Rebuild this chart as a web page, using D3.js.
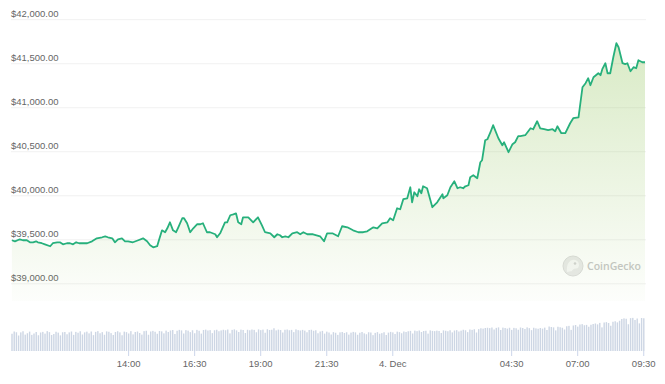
<!DOCTYPE html>
<html>
<head>
<meta charset="utf-8">
<script src="https://cdn.jsdelivr.net/npm/d3@7"></script>
<style>
  body { margin: 0; background: #fff; }
  svg { display: block; font-family: "Open Sans", "Noto Sans", sans-serif; }
</style>
</head>
<body>
<svg width="665" height="384"></svg>
<script>
// price series, minutes after 2023-12-03 09:34 UTC
var minutes = [2, 9, 20, 27, 36, 43, 50, 57, 61, 70, 77, 89, 95, 105, 111, 118, 127, 134, 141, 148,
  155, 164, 173, 184, 195, 207, 214, 220, 230, 236, 243, 252, 259, 266, 277, 289, 300, 309, 316, 323,
  332, 336, 343, 350, 355, 361, 368, 375, 380, 389, 393, 400, 407, 414, 423, 430, 436, 445, 452, 464,
  468, 475, 486, 491, 498, 505, 511, 516, 523, 527, 539, 550, 561, 570, 577, 589, 598, 605, 611, 616,
  623, 630, 639, 650, 657, 664, 673, 686, 702, 711, 718, 730, 743, 752, 764, 777, 789, 800, 809, 816,
  823, 832, 843, 855, 861, 868, 877, 884, 891, 900, 907, 911, 916, 923, 927, 932, 936, 945, 957, 968,
  980, 982, 991, 998, 1007, 1014, 1020, 1027, 1032, 1039, 1043, 1050, 1059, 1066, 1070, 1077, 1082, 1089, 1095, 1107,
  1116, 1120, 1130, 1139, 1145, 1152, 1157, 1168, 1180, 1186, 1195, 1202, 1211, 1220, 1230, 1236, 1241, 1250, 1259, 1270,
  1277, 1289, 1298, 1305, 1311, 1316, 1323, 1334, 1339, 1343, 1350, 1355, 1361, 1368, 1375, 1380, 1389, 1395, 1400, 1407,
  1414, 1420, 1425, 1434, 1440];
var prices = [39489, 39477, 39500, 39489, 39489, 39466, 39466, 39477, 39466, 39455, 39443, 39421, 39455, 39466, 39466, 39443, 39455, 39455, 39443, 39466,
  39455, 39455, 39455, 39477, 39511, 39523, 39534, 39523, 39511, 39466, 39500, 39511, 39477, 39477, 39466, 39489, 39511, 39477, 39432, 39409,
  39421, 39489, 39602, 39580, 39625, 39693, 39602, 39580, 39636, 39739, 39739, 39682, 39580, 39625, 39671, 39671, 39682, 39580, 39580, 39557,
  39523, 39568, 39693, 39693, 39773, 39784, 39795, 39693, 39671, 39750, 39750, 39693, 39750, 39659, 39580, 39568, 39523, 39557, 39546, 39523,
  39534, 39523, 39568, 39580, 39557, 39580, 39557, 39557, 39534, 39477, 39568, 39568, 39534, 39648, 39636, 39602, 39580, 39580, 39591, 39614,
  39636, 39625, 39682, 39693, 39739, 39716, 39852, 39841, 39955, 39966, 40091, 39920, 40034, 39989, 40068, 40023, 40102, 40080, 39864, 39920,
  40011, 39966, 40000, 40091, 40159, 40080, 40091, 40080, 40102, 40114, 40205, 40227, 40193, 40375, 40398, 40625, 40636, 40716, 40796, 40648,
  40568, 40602, 40489, 40580, 40602, 40671, 40671, 40682, 40761, 40750, 40841, 40761, 40750, 40739, 40750, 40727, 40784, 40705, 40705, 40818,
  40875, 40886, 41227, 41273, 41330, 41250, 41341, 41386, 41364, 41432, 41500, 41386, 41386, 41568, 41727, 41682, 41500, 41489, 41500, 41409,
  41455, 41443, 41534, 41511, 41511];

// volume per 5 minutes (billions USD)
var volumes = [
  13.8, 15.6, 15.0, 12.4, 14.9, 15.8, 13.1, 14.2, 15.5, 12.9, 14.0, 15.2,
  12.6, 14.8, 15.3, 13.9, 15.9, 15.1, 12.8, 13.6, 15.4, 14.7, 12.5, 15.0,
  15.2, 13.4, 14.9, 15.6, 12.9, 15.3, 14.6, 15.8, 13.2, 14.9, 15.5, 14.1,
  15.6, 12.7, 15.3, 15.9, 14.2, 15.1, 13.0, 15.7, 15.4, 14.3, 12.8, 15.2,
  15.8, 14.9, 12.6, 15.5, 15.1, 14.0, 15.9, 13.3, 15.2, 15.6, 14.4, 13.1,
  15.9, 16.2, 13.0, 15.6, 16.1, 15.4, 13.8, 16.0, 15.7, 14.1, 16.3, 15.2,
  16.4, 16.8, 13.6, 16.2, 16.9, 16.5, 14.0, 16.7, 16.3, 15.1, 16.6, 14.2,
  16.9, 16.2, 13.9, 16.8, 17.1, 16.4, 16.7, 14.3, 16.6, 17.0, 15.8, 16.5,
  17.0, 16.6, 17.2, 14.1, 16.9, 17.3, 16.5, 15.2, 17.1, 16.8, 14.4, 17.0,
  16.6, 17.2, 16.9, 15.0, 17.3, 16.7, 17.1, 14.6, 17.4, 16.8, 17.0, 18.2,
  16.5, 17.1, 16.8, 14.8, 17.0, 17.2, 16.6, 16.9, 15.1, 17.3, 16.7, 16.4,
  16.9, 16.3, 15.0, 16.8, 17.0, 16.2, 16.6, 14.2, 15.6, 16.1, 13.9, 15.5,
  14.8, 13.2, 15.1, 14.6, 12.9, 14.9, 15.2, 14.4, 15.0, 13.1, 14.7, 15.3,
  14.9, 13.0, 14.6, 15.2, 14.1, 13.4, 15.0, 14.8, 12.7, 14.5, 15.1, 13.8,
  14.3, 15.0, 12.8, 14.7, 15.3, 14.9, 13.6, 15.5, 15.1, 14.2, 15.6, 15.2,
  15.8, 16.1, 14.0, 16.3, 15.9, 16.4, 15.2, 16.0, 16.2, 13.9, 16.5, 16.1,
  15.9, 16.3, 16.0, 14.4, 16.5, 16.2, 15.8, 16.6, 14.9, 16.4, 16.7, 15.6,
  16.3, 17.0, 16.6, 15.1, 17.2, 16.9, 17.4, 14.8, 17.5, 18.2, 17.9, 18.4,
  18.6, 18.3, 18.8, 17.2, 18.5, 18.9, 16.8, 18.7, 18.4, 17.9, 18.6, 16.9,
  18.5, 18.2, 17.0, 18.8, 18.4, 17.6, 18.9, 18.3, 16.7, 18.6, 18.1, 17.8,
  18.4, 17.9, 18.7, 16.8, 19.6, 19.2, 18.9, 16.5, 19.4, 19.0, 18.6, 17.2,
  19.8, 20.1, 16.9, 20.4, 20.8, 19.5, 21.2, 21.5, 20.6, 20.9, 19.4, 21.0,
  21.6, 22.0, 21.3, 22.5, 18.9, 22.8, 23.1, 22.4, 20.2, 23.4, 23.8, 22.9,
  24.2, 25.6, 26.1, 25.8, 21.4, 26.3, 26.5, 24.8, 26.0, 22.1, 26.4, 26.2
];

var priceTicks = [39000, 39500, 40000, 40500, 41000, 41500, 42000];
var timeTicks = ["2023-12-03T14:00", "2023-12-03T16:30", "2023-12-03T19:00", "2023-12-03T21:30",
  "2023-12-04T00:00", "2023-12-04T04:30", "2023-12-04T07:00", "2023-12-04T09:30"];
var timeLabels = ["14:00", "16:30", "19:00", "21:30", "4. Dec", "04:30", "07:00", "09:30"];

var parse = d3.utcParse("%Y-%m-%dT%H:%M");
var start = parse("2023-12-03T09:34");
var end = d3.utcMinute.offset(start, 1440);

var svg = d3.select("svg");

var x = d3.scaleUtc().domain([start, end]).range([11, 645]);
var y = d3.scaleLinear().domain([39000, 42000]).range([283.3, 19.2]);
var yv = d3.scaleLinear().domain([0, 28]).range([351, 316]);

var data = minutes.map(function(m, i) {
  return { t: d3.utcMinute.offset(start, m), p: prices[i] };
});

// gradient for the area
var grad = svg.append("defs").append("linearGradient")
  .attr("id", "fill")
  .attr("gradientUnits", "userSpaceOnUse")
  .attr("x1", 0).attr("x2", 0)
  .attr("y1", y(42000)).attr("y2", y(38800));
grad.append("stop").attr("offset", 0).attr("stop-color", "#8cc152").attr("stop-opacity", 0.36);
grad.append("stop").attr("offset", 1).attr("stop-color", "#8cc152").attr("stop-opacity", 0.02);

// grid + price labels
var yAxis = d3.axisRight(y)
  .tickValues(priceTicks)
  .tickSize(635)
  .tickFormat(function(d) { return "$" + d3.format(",.2f")(d); });
var gy = svg.append("g").attr("transform", "translate(11,0)").call(yAxis);
gy.select(".domain").remove();
gy.selectAll("line").attr("stroke", "#f1f1f1");
gy.selectAll("text")
  .attr("x", 0)
  .attr("dy", -3)
  .attr("text-anchor", "start")
  .attr("fill", "#666")
  .style("font-size", "9.5px");

// watermark
var wm = svg.append("g").attr("transform", "translate(573,266)");
wm.append("circle").attr("r", 10).attr("fill", "#e9e9e9").attr("stroke", "#dcdcdc");
wm.append("path")
  .attr("d", "M-6,6 C-7,-2 -3,-7 2,-6 C6,-5 7,-1 5,2 C3,3 0,2 -1,5 Z")
  .attr("fill", "#f7f7f7");
wm.append("circle").attr("cx", 2).attr("cy", -2.5).attr("r", 1.3).attr("fill", "#d2d2d2");
svg.append("text")
  .attr("x", 587).attr("y", 270)
  .attr("fill", "#c6c6c6")
  .style("font-size", "10.5px")
  .style("font-weight", 600)
  .text("CoinGecko");

// price area + line
var area = d3.area()
  .x(function(d) { return x(d.t); })
  .y0(y(38800))
  .y1(function(d) { return y(d.p); });
var line = d3.line()
  .x(function(d) { return x(d.t); })
  .y(function(d) { return y(d.p); });

svg.append("path").datum(data).attr("d", area).attr("fill", "url(#fill)");
svg.append("path").datum(data)
  .attr("d", line)
  .attr("fill", "none")
  .attr("stroke", "#27b07c")
  .attr("stroke-width", 1.8)
  .attr("stroke-linejoin", "round");

// volume bars
var bw = (x(end) - x(start)) / volumes.length;
svg.append("g").selectAll("rect").data(volumes).enter().append("rect")
  .attr("x", function(d, i) { return x(d3.utcMinute.offset(start, i * 5)) + 0.3; })
  .attr("y", function(d) { return yv(d); })
  .attr("width", bw - 0.8)
  .attr("height", function(d) { return yv(0) - yv(d); })
  .attr("fill", "#cdd6e4");

// time axis
var xAxis = d3.axisBottom(x)
  .tickValues(timeTicks.map(parse))
  .tickSize(5)
  .tickFormat(function(d, i) { return timeLabels[i]; });
var gx = svg.append("g").attr("transform", "translate(0,351)").call(xAxis);
gx.select(".domain").remove();
gx.selectAll("line").attr("stroke", "#ccd6eb");
gx.selectAll("text")
  .attr("y", 9)
  .attr("fill", "#666")
  .style("font-size", "9.5px");
</script>
</body>
</html>
